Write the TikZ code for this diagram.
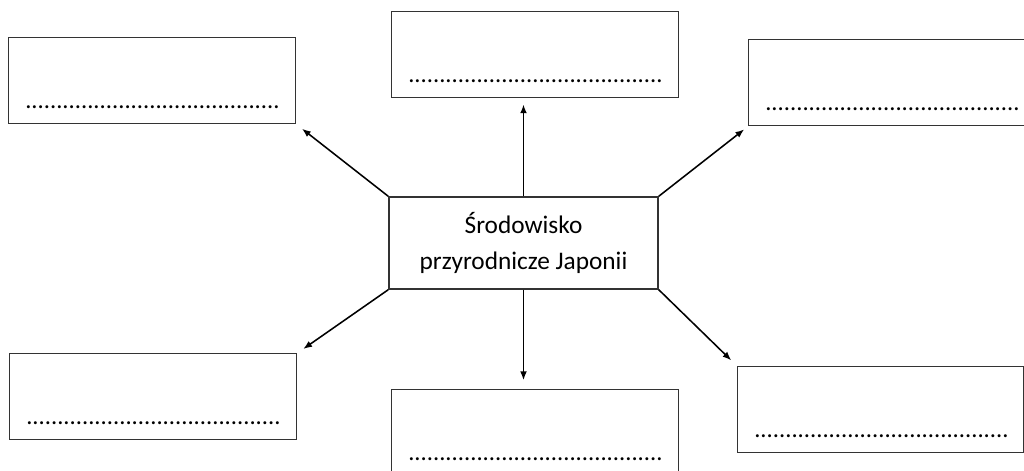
\documentclass[tikz,border=0pt]{standalone}
\usepackage{fontspec}
\setmainfont{Carlito}
\usetikzlibrary{calc, arrows.meta, positioning}
\tikzset{
    pole/.style = {rectangle, draw=black!80, line width=1pt, minimum width=7.175cm, minimum height=2.15cm, inner sep=0pt},
    srodek/.style = {rectangle, draw=black!80, line width=1pt, minimum width=6.725cm, minimum height=2.3cm, align=center, font=\fontsize{18}{26}\selectfont},
    kropki/.style = {inner sep=0pt, anchor=base west, font=\fontsize{17.5}{20}\selectfont},
    strz/.style = {-{Latex[length=0.22cm, width=0.17cm]}, line width=1.1pt}
}
\newcommand{\kropki}{.........................................}

\begin{document}
\begin{tikzpicture}[x=0.025cm, y=-0.025cm]
        \useasboundingbox (0,0) rectangle (1024,471);

        %nodes

        \node(S)[srodek] at (523.5,243) {Środowisko\\przyrodnicze Japonii};
        \node(TL)[pole, anchor=north west] at (8,37) {};
        \node(TC)[pole, anchor=north west] at (391,11) {};
        \node(TR)[pole, anchor=north west] at (748,39) {};
        \node(BL)[pole, anchor=north west] at (9,353) {};
        \node(BC)[pole, anchor=north west] at (391,389) {};
        \node(BR)[pole, anchor=north west, minimum width=7.15cm] at (737,366) {};

        %dots

        \node(TLk)[kropki] at ($(TL.south west) + (17,-16)$) {\kropki};
        \node(TCk)[kropki] at ($(TC.south west) + (17,-16)$) {\kropki};
        \node(TRk)[kropki] at ($(TR.south west) + (17,-16)$) {\kropki};
        \node(BLk)[kropki] at ($(BL.south west) + (17,-16)$) {\kropki};
        \node(BCk)[kropki] at ($(BC.south west) + (17,-16)$) {\kropki};
        \node(BRk)[kropki] at ($(BR.south west) + (17,-16)$) {\kropki};

        %arrows

        \draw[strz, shorten >=0.175cm] (S.north west) -- (TL.south east);
        \draw[strz, shorten >=0.15cm] (S.north) -- (S.north |- TC.south);
        \draw[strz, shorten >=0.12cm] (S.north east) -- (TR.south west);
        \draw[strz, shorten >=0.175cm] (S.south west) -- (BL.north east);
        \draw[strz, shorten >=0.22cm] (S.south) -- (S.south |- BC.north);
        \draw[strz, shorten >=0.2cm] (S.south east) -- (BR.north west);
    \end{tikzpicture}
\end{document}
